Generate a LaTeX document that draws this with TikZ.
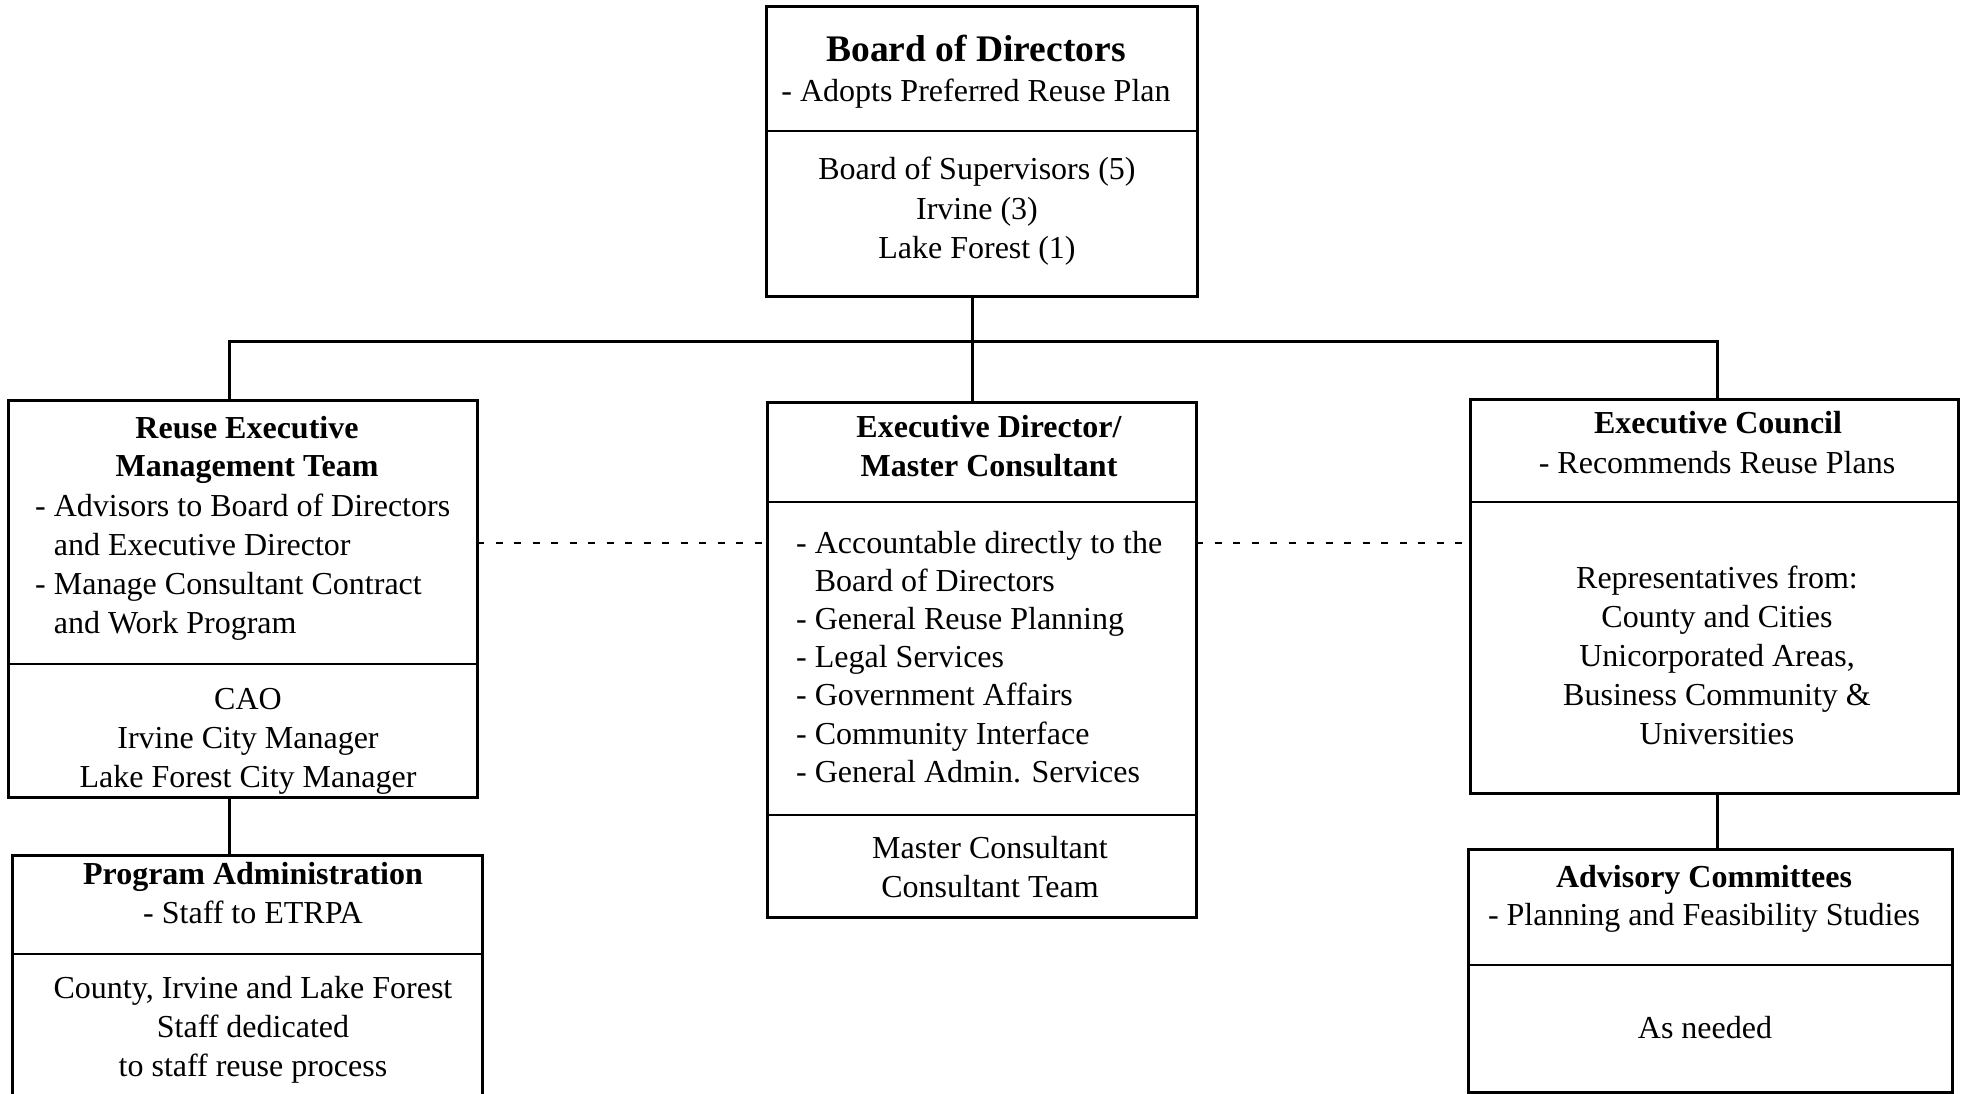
\documentclass[tikz,border=0pt]{standalone}
\usepackage{fontspec}
\setmainfont{Liberation Serif}
\tikzset{
  box/.style={draw, line width=3pt, inner sep=0pt, outer sep=0pt, anchor=north west},
  divline/.style={line width=2.5pt},
  conn/.style={line width=3pt},
  dashline/.style={line width=2pt, dash pattern=on 7pt off 11.5pt},
  txt/.style={inner sep=0pt, anchor=base, font=\fontsize{32}{39}\selectfont},
  txtl/.style={inner sep=0pt, anchor=base west, font=\fontsize{32}{39}\selectfont},
  ttl/.style={inner sep=0pt, anchor=base, font=\fontsize{32}{38.5}\selectfont\bfseries},
}
\begin{document}
\begin{tikzpicture}[x=1pt,y=-1pt]
\clip (0,0) rectangle (1963,1094);
\fill[white] (0,0) rectangle (1963,1094);

% boxes
\node[box, minimum width=431pt, minimum height=289pt] (bod) at (766,7) {};
\node[box, minimum width=469pt, minimum height=397pt] (rem) at (8,400) {};
\node[box, minimum width=429pt, minimum height=515pt] (ed) at (767,402) {};
\node[box, minimum width=488pt, minimum height=394pt] (ec) at (1470,399) {};
\node[box, minimum width=470pt, minimum height=270pt] (pa) at (12,855) {};
\node[box, minimum width=484pt, minimum height=243pt] (ac) at (1468,849) {};

% dividers
\draw[divline] (bod.west |- 0,131) -- (bod.east |- 0,131);
\draw[divline] (rem.west |- 0,664) -- (rem.east |- 0,664);
\draw[divline] (ed.west |- 0,502) -- (ed.east |- 0,502);
\draw[divline] (ed.west |- 0,815) -- (ed.east |- 0,815);
\draw[divline] (ec.west |- 0,502) -- (ec.east |- 0,502);
\draw[divline] (pa.west |- 0,954) -- (pa.east |- 0,954);
\draw[divline] (ac.west |- 0,965) -- (ac.east |- 0,965);

% connectors
\coordinate (hubL) at (229,341);
\coordinate (hubC) at (972,341);
\coordinate (hubR) at (1717,341);
\coordinate (dashY) at (0,543);
\draw[conn] (hubC |- bod.south) -- (hubC);
\draw[conn] (hubL |- rem.north) -- (hubL) -- (hubR) -- (hubR |- ec.north);
\draw[conn] (hubC) -- (hubC |- ed.north);
\draw[conn] (hubL |- rem.south) -- (hubL |- pa.north);
\draw[conn] (hubR |- ec.south) -- (hubR |- ac.north);
\draw[dashline] (rem.east |- dashY) -- (ed.west |- dashY);
\draw[dashline] (ed.east |- dashY) -- (ec.west |- dashY);

% Board of Directors
\node[ttl, font=\fontsize{37.5}{40}\selectfont\bfseries] (bodT) at (976,62) {Board of Directors};
\node[txt] (bodS) at (976,102) {- Adopts Preferred Reuse Plan};
\node[txt, font=\fontsize{32}{39.5}\selectfont] (bodM) at (977,180)
  {\begin{tabular}[t]{@{}c@{}}Board of Supervisors (5)\\Irvine (3)\\Lake Forest (1)\end{tabular}};

% Reuse Executive Management Team
\node[ttl] (remT) at (247,438)
  {\begin{tabular}[t]{@{}c@{}}Reuse Executive\\Management Team\end{tabular}};
\node[txtl] (remL) at (35,516)
  {\begin{tabular}[t]{@{}l@{}}- Advisors to Board of Directors\\\phantom{- }and Executive Director\\- Manage Consultant Contract\\\phantom{- }and Work Program\end{tabular}};
\node[txt] (remM) at (248,709)
  {\begin{tabular}[t]{@{}c@{}}CAO\\Irvine City Manager\\Lake Forest City Manager\end{tabular}};

% Program Administration
\node[ttl] (paT) at (253,884) {Program Administration};
\node[txt] (paS) at (253,923) {- Staff to ETRPA};
\node[txt] (paM) at (253,998)
  {\begin{tabular}[t]{@{}c@{}}County, Irvine and Lake Forest\\Staff dedicated\\to staff reuse process\end{tabular}};

% Executive Director / Master Consultant
\node[ttl, font=\fontsize{32}{39}\selectfont\bfseries] (edT) at (989,437)
  {\begin{tabular}[t]{@{}c@{}}Executive Director/\\Master Consultant\end{tabular}};
\node[txtl, font=\fontsize{32}{38.2}\selectfont] (edL) at (796,553)
  {\begin{tabular}[t]{@{}l@{}}- Accountable directly to the\\\phantom{- }Board of Directors\\- General Reuse Planning\\- Legal Services\\- Government Affairs\\- Community Interface\\- General Admin. Services\end{tabular}};
\node[txt] (edM) at (990,858)
  {\begin{tabular}[t]{@{}c@{}}Master Consultant\\Consultant Team\end{tabular}};

% Executive Council
\node[ttl] (ecT) at (1718,433) {Executive Council};
\node[txt] (ecS) at (1717,473) {- Recommends Reuse Plans};
\node[txt] (ecM) at (1717,588)
  {\begin{tabular}[t]{@{}c@{}}Representatives from:\\County and Cities\\Unicorporated Areas,\\Business Community \&\\Universities\end{tabular}};

% Advisory Committees
\node[ttl] (acT) at (1704,887) {Advisory Committees};
\node[txt] (acS) at (1704,925) {- Planning and Feasibility Studies};
\node[txt] (acM) at (1705,1038) {As needed};
\end{tikzpicture}
\end{document}
